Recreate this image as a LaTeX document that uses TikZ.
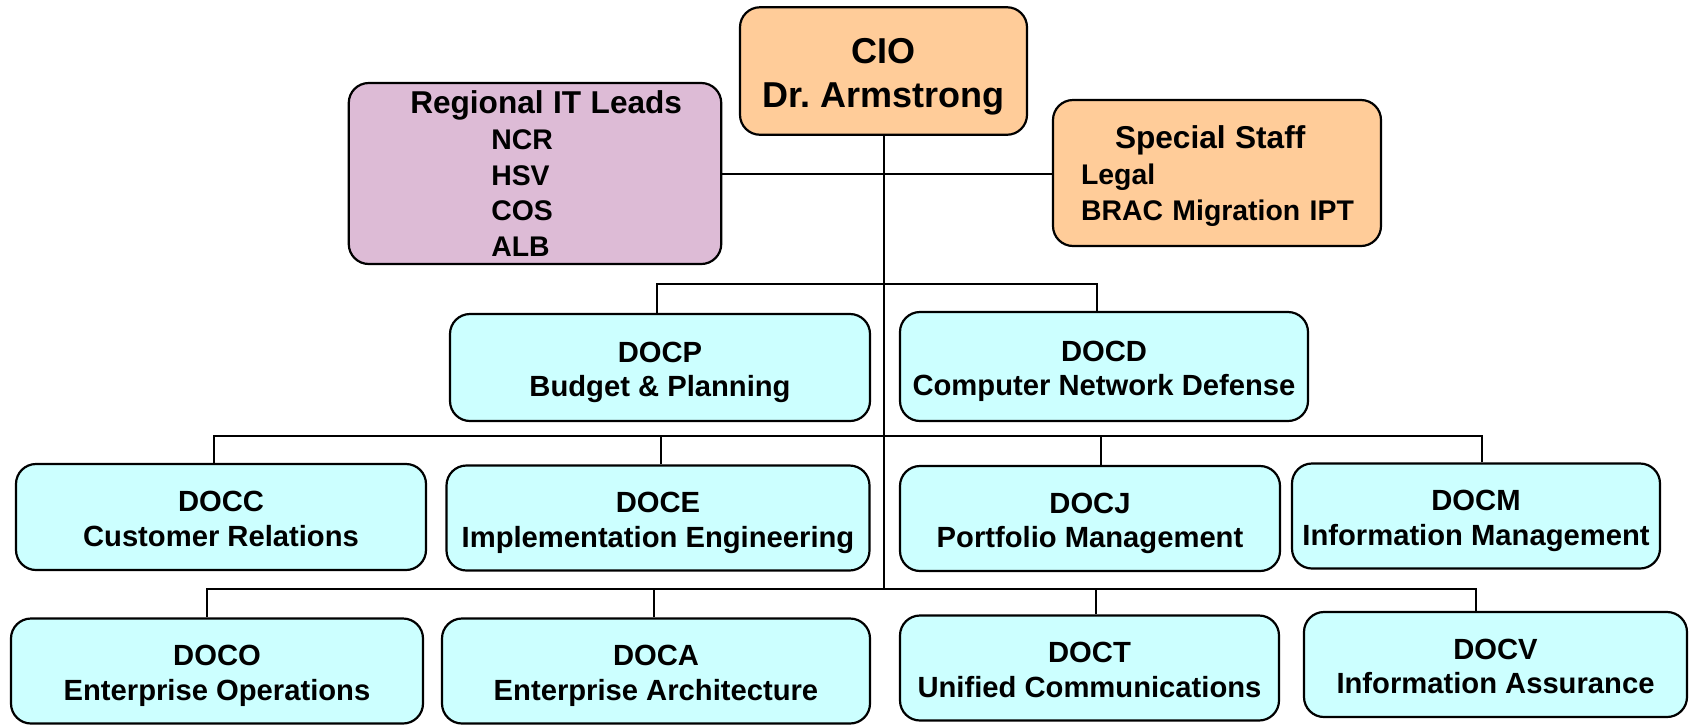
\documentclass[tikz,border=0pt]{standalone}
\usepackage{fontspec}
\setmainfont{Liberation Sans}
\usetikzlibrary{calc}
\definecolor{boxcyan}{RGB}{204,255,255}
\definecolor{boxorange}{RGB}{255,204,153}
\definecolor{boxpurple}{RGB}{221,187,214}
\newcommand\nodetop{\rule{0pt}{1.04em}}
\newcommand\nodebot{\rule[-0.22em]{0pt}{0pt}}
\tikzset{
  office/.style={draw, line width=1.1pt, rounded corners=10pt, fill=boxcyan, align=center,
    inner sep=0pt, minimum height=52.5pt, font=\fontsize{14.6}{17.3}\selectfont\bfseries},
  orgline/.style={line width=1pt}
}
\frenchspacing

\begin{document}
\begin{tikzpicture}[x=0.5pt,y=-0.5pt]
\useasboundingbox (0,0) rectangle (1692,724);

%Head and staff boxes
\node[office, fill=boxorange, minimum width=143.5pt, minimum height=63.75pt,
  font=\fontsize{18}{22}\selectfont\bfseries] (cio) at (883.5,71) {\nodetop CIO\\Dr. Armstrong\nodebot};
\node[office, fill=boxpurple, text width=186.25pt, minimum height=90.5pt, align=left,
  font=\fontsize{14.2}{17.8}\selectfont\bfseries] (regional) at (535,173.5)
  {\nodetop\hspace*{30.75pt}{\fontsize{15.8}{17.8}\selectfont Regional IT Leads}\\
   \hspace*{71.25pt}NCR\\\hspace*{71.25pt}HSV\\\hspace*{71.25pt}COS\\\hspace*{71.25pt}ALB\nodebot};
\node[office, fill=boxorange, text width=164pt, minimum height=73pt, align=left,
  font=\fontsize{14.2}{18}\selectfont\bfseries] (special) at (1217,173)
  {\nodetop\hspace*{31pt}{\fontsize{15.8}{18}\selectfont Special Staff}\\
   \hspace*{14pt}Legal\\\hspace*{14pt}BRAC Migration IPT\nodebot};

%Directorates
\node[office, minimum width=210pt, minimum height=53.5pt] (docp) at (660,367.5) {\nodetop DOCP\\Budget \& Planning\nodebot};
\node[office, minimum width=204pt, minimum height=54.5pt] (docd) at (1104,366.5) {\nodetop DOCD\\Computer Network Defense\nodebot};

\node[office, minimum width=205pt, minimum height=53pt] (docc) at (221,517) {\nodetop DOCC\\Customer Relations\nodebot};
\node[office, minimum width=211.5pt] (doce) at (658,518) {\nodetop DOCE\\Implementation Engineering\nodebot};
\node[office, minimum width=190pt] (docj) at (1090,518.5) {\nodetop DOCJ\\Portfolio Management\nodebot};
\node[office, minimum width=184pt] (docm) at (1476,516) {\nodetop DOCM\\Information Management\nodebot};

\node[office, minimum width=206pt] (doco) at (217,671) {\nodetop DOCO\\Enterprise Operations\nodebot};
\node[office, minimum width=214pt] (doca) at (656,671) {\nodetop DOCA\\Enterprise Architecture\nodebot};
\node[office, minimum width=189.5pt] (doct) at (1089.5,668) {\nodetop DOCT\\Unified Communications\nodebot};
\node[office, minimum width=191.5pt] (docv) at (1495.5,664.5) {\nodetop DOCV\\Information Assurance\nodebot};

%Bus coordinates on the trunk
\coordinate (bus1) at (883.5,284);
\coordinate (bus2) at (883.5,436);
\coordinate (bus3) at (883.5,589);

%Drawing connectors
\draw[orgline] (cio.south) -- (bus3);
\draw[orgline] (regional.east) -- (regional.east -| special.west);
\draw[orgline] ([xshift=-1.5pt]docp.north) |- (bus1);
\draw[orgline] ([xshift=-3.5pt]docd.north) |- (bus1);
\draw[orgline] ([xshift=-3.5pt]docc.north) |- (bus2);
\draw[orgline] ([xshift=1.5pt]doce.north) |- (bus2);
\draw[orgline] ([xshift=5.5pt]docj.north) |- (bus2);
\draw[orgline] ([xshift=3pt]docm.north) |- (bus2);
\draw[orgline] ([xshift=-5pt]doco.north) |- (bus3);
\draw[orgline] ([xshift=-1pt]doca.north) |- (bus3);
\draw[orgline] ([xshift=3pt]doct.north) |- (bus3);
\draw[orgline] ([xshift=-10pt]docv.north) |- (bus3);
\end{tikzpicture}
\end{document}
